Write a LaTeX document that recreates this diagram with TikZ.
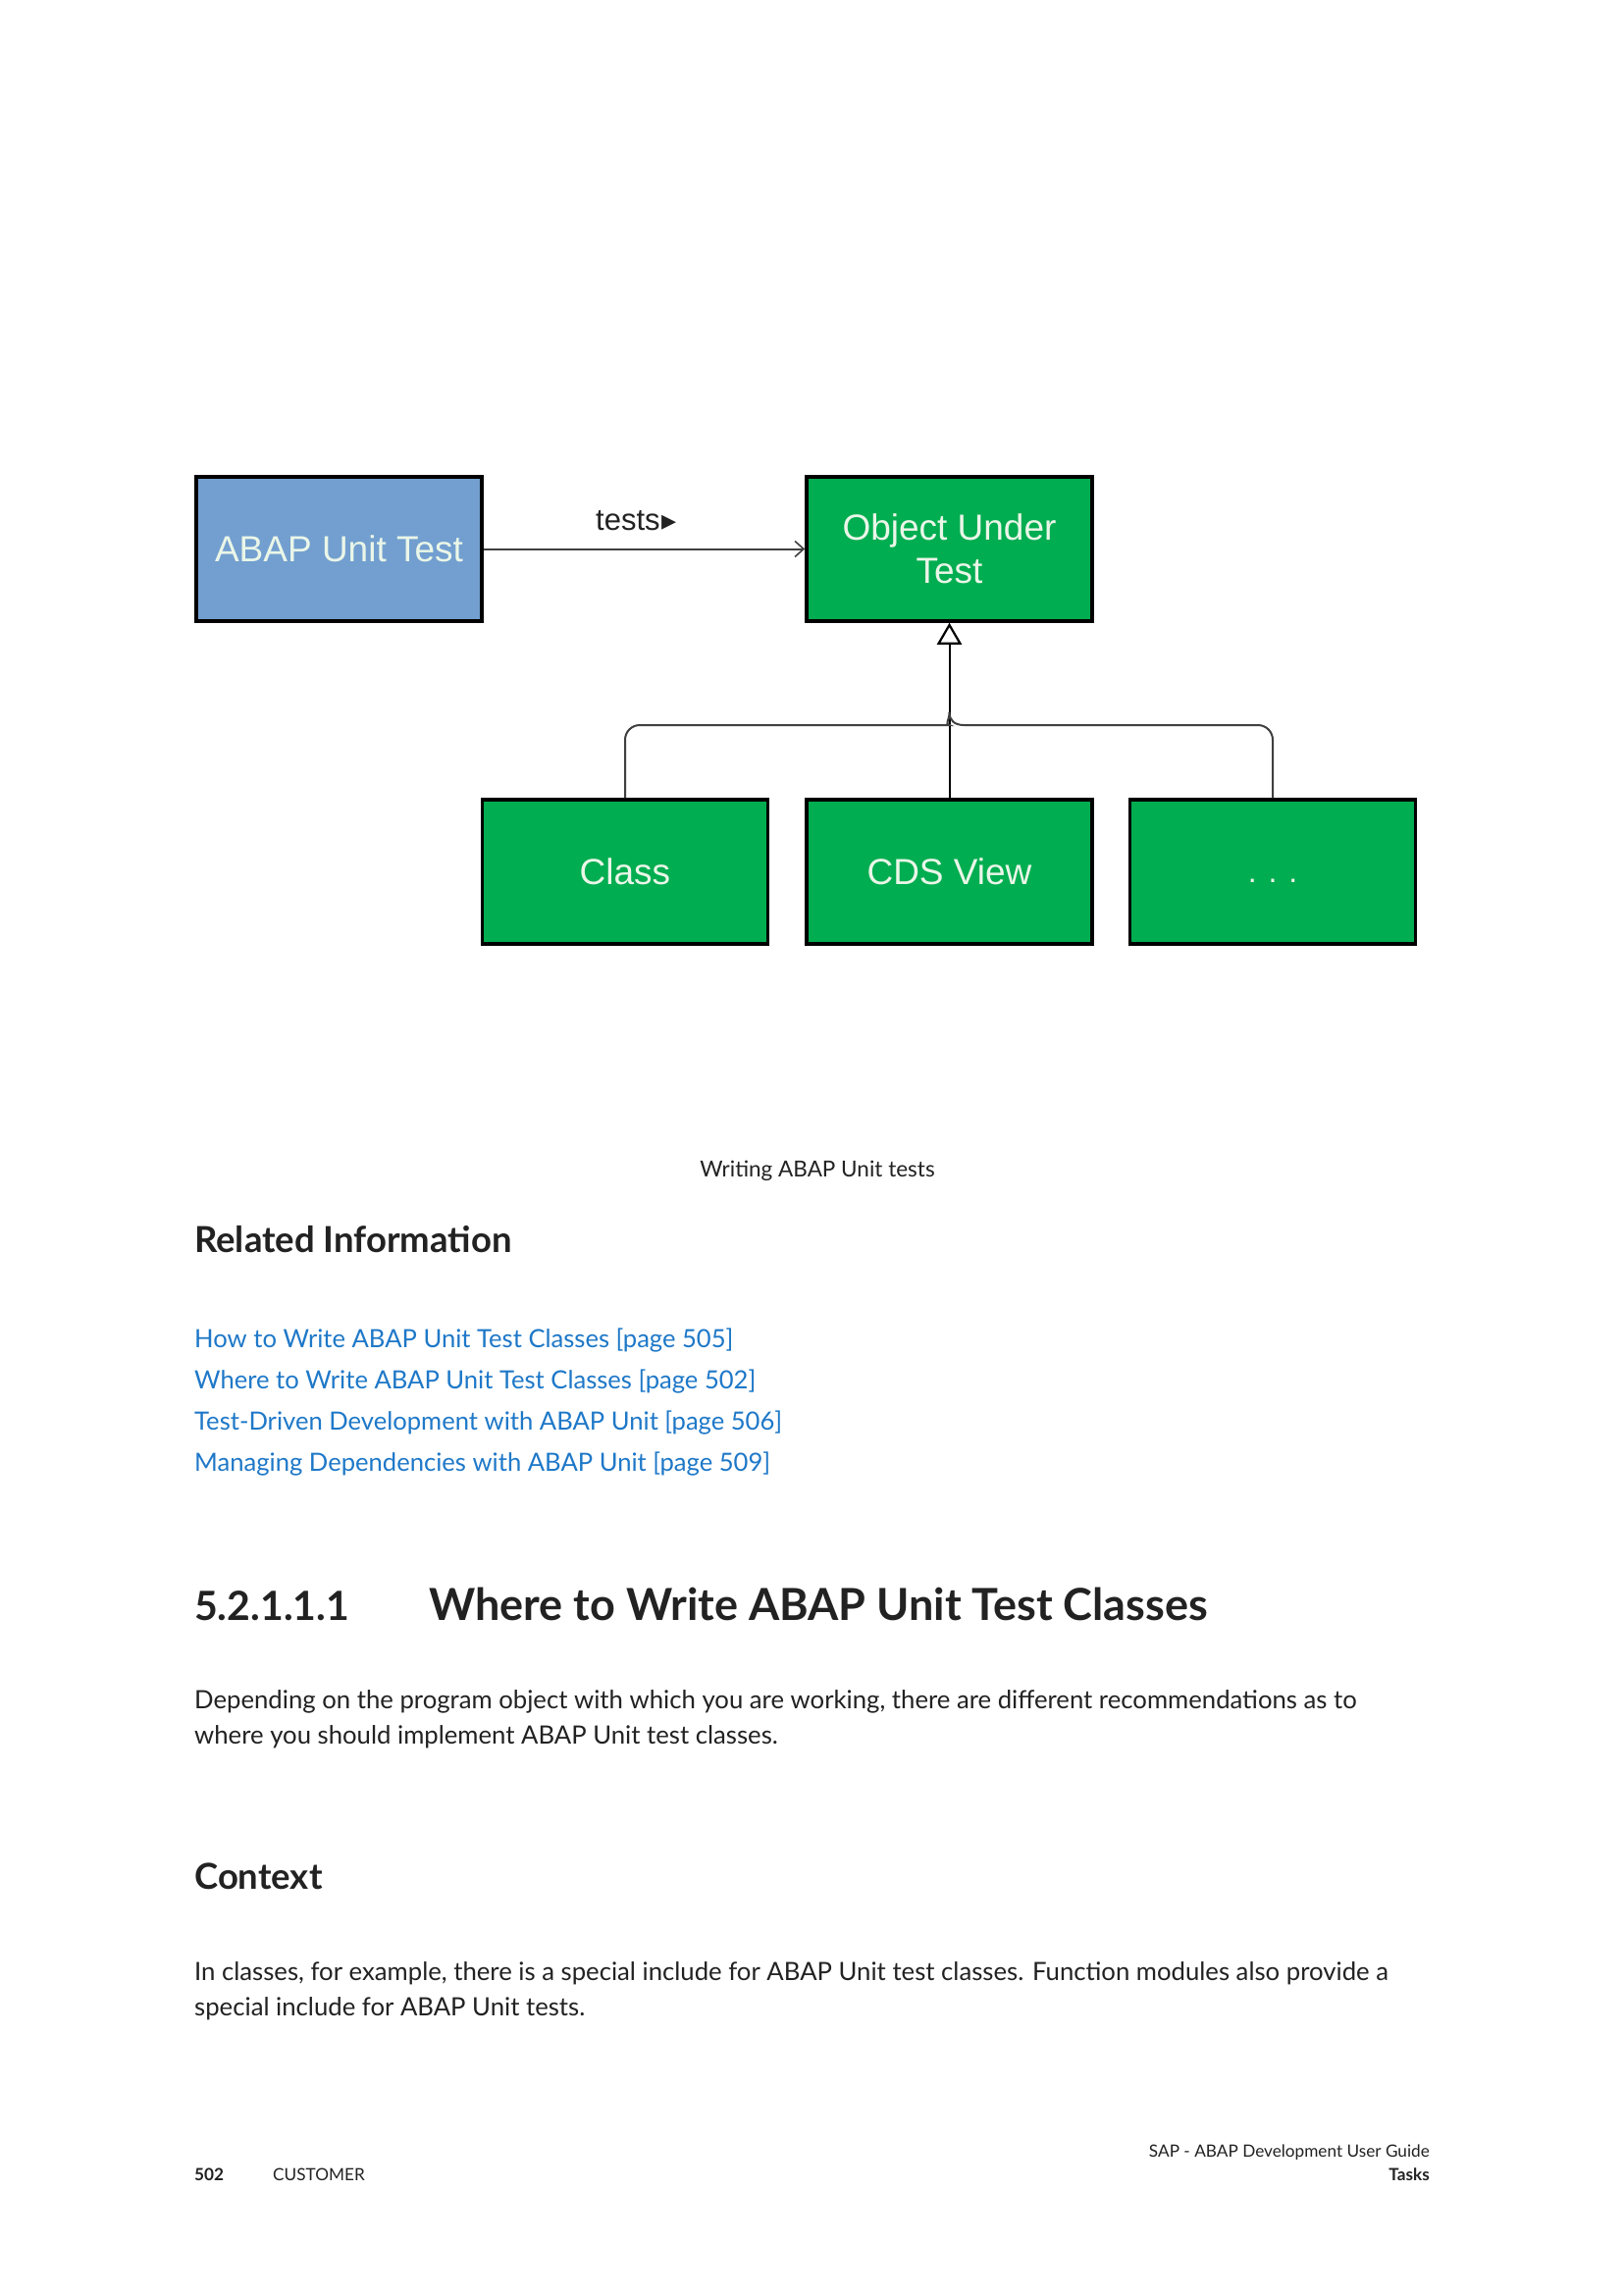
\documentclass[tikz,border=0pt]{standalone}
\usepackage{fontspec}
\setmainfont{Lato}
\newfontfamily\diag{Liberation Sans}
\newfontfamily\symf{DejaVu Sans}
\usetikzlibrary{arrows.meta,calc}
\definecolor{abapblue}{RGB}{114,159,207}
\definecolor{sapgreen}{RGB}{0,173,80}
\definecolor{boxtext}{RGB}{234,246,232}
\definecolor{linkblue}{RGB}{30,120,200}
\definecolor{bodytext}{RGB}{34,34,34}
\definecolor{lineg}{RGB}{64,64,64}
\begin{document}
\begin{tikzpicture}[x=1pt,y=-1pt,
  umlbox/.style={draw=black, line width=3.5pt, minimum width=291pt, minimum height=147pt,
    inner sep=0pt, text=boxtext, align=center, font=\diag\fontsize{37}{44}\selectfont},
  conn/.style={draw=lineg, line width=2pt},
  body/.style={anchor=base west, inner sep=0pt, text=bodytext, font=\fontsize{25.7}{32}\selectfont},
  linktext/.style={anchor=base west, inner sep=0pt, text=linkblue, font=\fontsize{25.6}{32}\selectfont},
  subhead/.style={anchor=base west, inner sep=0pt, text=bodytext, font=\bfseries\fontsize{36.5}{43}\selectfont},
  foot/.style={inner sep=0pt, text=bodytext, font=\fontsize{17.2}{21}\selectfont}
]
\useasboundingbox (0,0) rectangle (1654,2339);
\fill[white] (0,0) rectangle (1654,2339);

% diagram
\node[umlbox, fill=abapblue] (aut) at (345.5,559.5) {ABAP Unit Test};
\node[umlbox, fill=sapgreen] (obj) at (967.5,559.5) {Object Under\\Test};
\node[umlbox, fill=sapgreen] (cls) at (637,888.5) {Class};
\node[umlbox, fill=sapgreen] (cds) at (967.5,888.5) {CDS View};
\node[umlbox, fill=sapgreen, font=\diag\fontsize{32}{38}\selectfont] (dots) at (1297,888.5) {\raisebox{-11pt}[0pt][0pt]{. . .}};

\draw[conn, -{Straight Barb[length=9pt,width=16pt,line width=1.6pt]}] (aut.east) -- (obj.west);
\node[anchor=base west, inner sep=0pt, text=bodytext, font=\diag\fontsize{31}{36}\selectfont] (tlbl) at (607,540)
  {tests\kern2pt{\symf\fontsize{30}{30}\selectfont ▸}};

\coordinate (bus) at (0,739);
\draw[conn, -{Triangle[open, length=22pt, width=25pt, line width=2.2pt]}, draw=black] (cds.north) -- (obj.south);
\draw[conn, rounded corners=15pt] (cls.north) -- (cls.north |- bus) -- ($(cds.north |- bus)+(-15,0)$)
  [sharp corners] .. controls ($(cds.north |- bus)+(-5,0)$) and ($(cds.north |- bus)+(0,-5)$) .. ($(cds.north |- bus)+(0,-13)$)
  .. controls ($(cds.north |- bus)+(0,-5)$) and ($(cds.north |- bus)+(5,0)$) .. ($(cds.north |- bus)+(15,0)$)
  [rounded corners=15pt] -- (dots.north |- bus) -- (dots.north);

% caption
\node[anchor=base, inner sep=0pt, text=bodytext, font=\fontsize{22.5}{27}\selectfont] (cap) at (833,1199) {Writing ABAP Unit tests};

\node[subhead] (rel) at (198,1276) {Related Information};
\node[linktext] (l1) at (198,1373) {How to Write ABAP Unit Test Classes [page 505]};
\node[linktext] (l2) at (198,1415) {Where to Write ABAP Unit Test Classes [page 502]};
\node[linktext] (l3) at (198,1457) {Test-Driven Development with ABAP Unit [page 506]};
\node[linktext] (l4) at (198,1499) {Managing Dependencies with ABAP Unit [page 509]};

\node[anchor=base west, inner sep=0pt, text=bodytext, font=\bfseries\fontsize{41}{48}\selectfont] (hnum) at (198,1651) {5.2.1.1.1};
\node[anchor=base west, inner sep=0pt, text=bodytext, font=\bfseries\fontsize{45}{52}\selectfont] (htit) at (437,1651) {Where to Write ABAP Unit Test Classes};

\node[body] (p1a) at (198,1741) {Depending on the program object with which you are working, there are different recommendations as to};
\node[body] (p1b) at (198,1777) {where you should implement ABAP Unit test classes.};

\node[subhead] (ctx) at (198,1925) {Context};

\node[body] (p2a) at (198,2018) {In classes, for example, there is a special include for ABAP Unit test classes. Function modules also provide a};
\node[body] (p2b) at (198,2054) {special include for ABAP Unit tests.};

\node[foot, anchor=base east] (f1) at (1457,2198) {SAP - ABAP Development User Guide};
\node[foot, anchor=base east, font=\bfseries\fontsize{17.2}{21}\selectfont] (f2) at (1457,2222) {Tasks};
\node[foot, anchor=base west, font=\bfseries\fontsize{17.2}{21}\selectfont] (f3) at (198,2222) {502};
\node[foot, anchor=base west] (f4) at (278,2222) {CUSTOMER};
\end{tikzpicture}
\end{document}
